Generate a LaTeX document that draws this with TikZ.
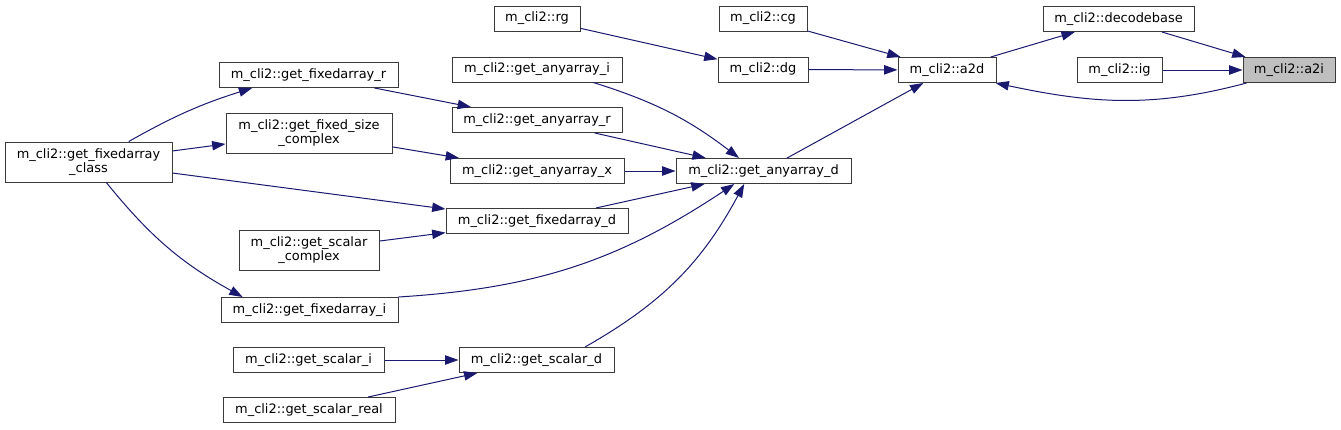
\documentclass[tikz,border=0pt]{standalone}
\usepackage{fontspec}
\setmainfont{DejaVu Sans}
\usepackage{xcolor}
\usepackage{tikz}
\usetikzlibrary{arrows.meta}

\definecolor{edgeblue}{HTML}{191970}
\definecolor{nodeline}{HTML}{3A3A3A}
\definecolor{nodegray}{HTML}{BFBFBF}

\begin{document}
\begin{tikzpicture}[
    x=0.75pt, y=0.75pt,
    fn/.style={draw=nodeline, line width=0.75pt, fill=white, inner sep=0pt,
               minimum width=#1*0.75pt, minimum height=18.75pt,
               font=\fontsize{9.7}{10}\selectfont, align=center},
    twoline/.style={minimum height=30pt},
    call/.style={-{Triangle[length=10pt, width=7pt]}, line width=0.75pt, color=edgeblue}
]
\useasboundingbox (0,0) rectangle (1341,-429);

%% Right part
\node[fn=92, fill=nodegray] (a2i) at (1289,-70) {m\_cli2::a2i};
\node[fn=151] (decodebase) at (1118.5,-19) {m\_cli2::decodebase};
\node[fn=85] (ig) at (1119.5,-70) {m\_cli2::ig};
\node[fn=98] (a2d) at (947,-70) {m\_cli2::a2d};

%% Top row
\node[fn=86] (rg) at (537,-18.5) {m\_cli2::rg};
\node[fn=88] (cg) at (763,-18.5) {m\_cli2::cg};
\node[fn=90] (dg) at (763,-69.5) {m\_cli2::dg};

%% anyarray column
\node[fn=170] (any_i) at (537,-69.5) {m\_cli2::get\_anyarray\_i};
\node[fn=170] (any_r) at (537,-120) {m\_cli2::get\_anyarray\_r};
\node[fn=174] (any_x) at (537,-171) {m\_cli2::get\_anyarray\_x};
\node[fn=175] (any_d) at (763.5,-171) {m\_cli2::get\_anyarray\_d};
\node[fn=182] (fix_d) at (537,-221) {m\_cli2::get\_fixedarray\_d};
\node[fn=155] (sc_d) at (536.5,-360) {m\_cli2::get\_scalar\_d};

%% Left columns
\node[fn=179] (fix_r) at (308.5,-75) {m\_cli2::get\_fixedarray\_r};
\node[fn=166, twoline] (fix_size) at (309,-133) {m\_cli2::get\_fixed\_size\\\_complex};
\node[fn=167, twoline] (fix_class) at (88.5,-162) {m\_cli2::get\_fixedarray\\\_class};
\node[fn=140, twoline] (sc_complex) at (309,-250) {m\_cli2::get\_scalar\\\_complex};
\node[fn=177] (fix_i) at (309.5,-310) {m\_cli2::get\_fixedarray\_i};
\node[fn=151] (sc_i) at (308.5,-360) {m\_cli2::get\_scalar\_i};
\node[fn=172] (sc_real) at (309,-410) {m\_cli2::get\_scalar\_real};

%% Calls into a2i and a2d
\draw[call] (decodebase) -- (a2i);
\draw[call] (ig) -- (a2i);
\draw[call] (a2d) -- (decodebase);
\draw[call] (a2i.-163) to[out=195, in=-12] (a2d.-15);
\draw[call] (cg) -- (a2d);
\draw[call] (dg) -- (a2d);
\draw[call] (any_d) -- (a2d);
\draw[call] (rg) -- (dg);

%% Calls into get_anyarray_d
\draw[call] (any_i.-13) to[bend left=10] (any_d.152);
\draw[call] (any_r) -- (any_d);
\draw[call] (any_x) -- (any_d);
\draw[call] (fix_d) -- (any_d);
\draw[call] (fix_i.north east) to[bend right=15] (any_d.-156);
\draw[call] (sc_d.15) to[bend right=16] (any_d.-146);

%% Left side calls
\draw[call] (fix_r) -- (any_r);
\draw[call] (fix_size) -- (any_x);
\draw[call] (fix_class.27) to[bend left=6] (fix_r.193);
\draw[call] (fix_class) -- (fix_size);
\draw[call] (fix_class) -- (fix_d);
\draw[call] (fix_class.-49) to[bend right=11] (fix_i.169);
\draw[call] (sc_complex) -- (fix_d);
\draw[call] (sc_i) -- (sc_d);
\draw[call] (sc_real) -- (sc_d);

\end{tikzpicture}
\end{document}
